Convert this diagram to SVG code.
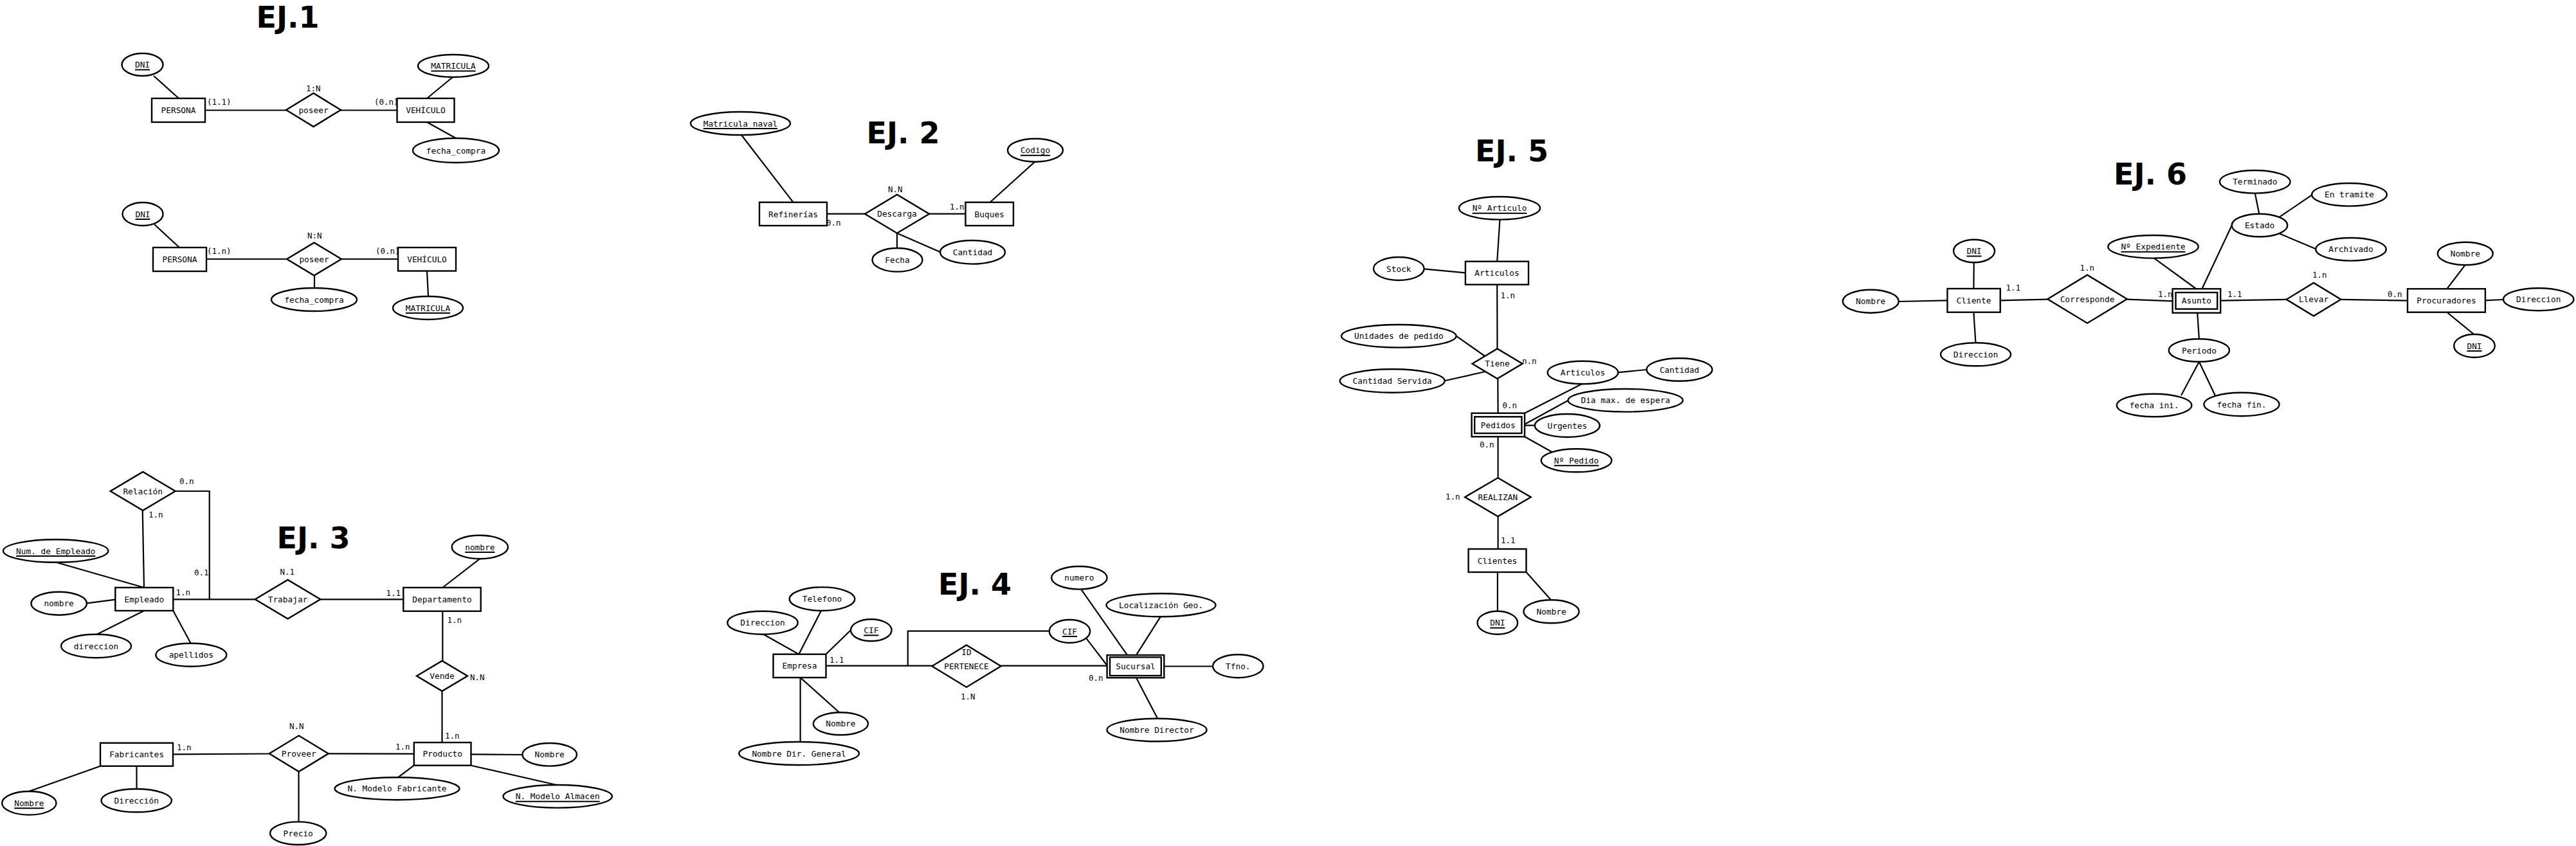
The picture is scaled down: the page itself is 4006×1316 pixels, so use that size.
<svg xmlns="http://www.w3.org/2000/svg" width="4006" height="1316" viewBox="0 0 4006 1316">
<style>
.bg{fill:#fff}
.e,.a,.r{fill:#fff;stroke:#000;stroke-width:2.4}
.t{font-family:"DejaVu Sans Mono","Liberation Mono",monospace;font-size:12.8px;text-anchor:middle;fill:#000}
.c{font-family:"DejaVu Sans Mono","Liberation Mono",monospace;font-size:12.5px;fill:#000}
.h{font-family:"DejaVu Sans","Liberation Sans",sans-serif;font-size:46px;font-weight:bold;fill:#000}
.u{stroke:#000;stroke-width:2}
#connectors line,#connectors polyline{stroke:#000;stroke-width:2.2;fill:none}
</style>
<rect class="bg" x="0" y="0" width="4006" height="1316"/>

<g id="titles">
<text class="h" x="398.5" y="43">EJ.1</text>
<text class="h" x="1347.5" y="223">EJ. 2</text>
<text class="h" x="430.5" y="853">EJ. 3</text>
<text class="h" x="1459" y="925">EJ. 4</text>
<text class="h" x="2294" y="251">EJ. 5</text>
<text class="h" x="3287" y="287">EJ. 6</text>
</g>

<g id="connectors">
<line x1="239" y1="118" x2="278" y2="153"/>
<line x1="319" y1="171.5" x2="445" y2="171.5"/>
<line x1="530" y1="171.5" x2="617.5" y2="171.5"/>
<line x1="664" y1="153" x2="704" y2="120"/>
<line x1="664" y1="190" x2="709" y2="215"/>
<line x1="240" y1="349" x2="279" y2="385"/>
<line x1="321" y1="403" x2="446" y2="403"/>
<line x1="531" y1="403" x2="619" y2="403"/>
<line x1="489" y1="428.5" x2="489" y2="448"/>
<line x1="664" y1="421.5" x2="666" y2="461"/>
<line x1="1153" y1="210" x2="1233.5" y2="314.7"/>
<line x1="1286" y1="332.7" x2="1345" y2="332.7"/>
<line x1="1445" y1="332.7" x2="1501.5" y2="332.7"/>
<line x1="1539.5" y1="314.7" x2="1609" y2="252"/>
<line x1="1395" y1="362.7" x2="1395" y2="386"/>
<line x1="1395" y1="362.7" x2="1462" y2="392"/>
<polyline points="272.7,764 325.7,764 325.7,932.3"/>
<line x1="221.7" y1="794" x2="224" y2="914"/>
<line x1="88.3" y1="875" x2="224" y2="914"/>
<line x1="135" y1="938.3" x2="179.3" y2="932.7"/>
<line x1="150.7" y1="986.7" x2="224" y2="950"/>
<line x1="269.3" y1="950" x2="296.7" y2="1000.7"/>
<line x1="269.3" y1="932.3" x2="396.7" y2="932.3"/>
<line x1="498.3" y1="932.3" x2="627.3" y2="932.3"/>
<line x1="688.3" y1="914" x2="746" y2="869.3"/>
<line x1="688.3" y1="950.7" x2="688.3" y2="1028"/>
<line x1="687.5" y1="1075" x2="687.5" y2="1155"/>
<line x1="269" y1="1173.3" x2="418.7" y2="1172.5"/>
<line x1="510.7" y1="1172.3" x2="643.8" y2="1172.7"/>
<line x1="464.5" y1="1200" x2="464.5" y2="1278.4"/>
<line x1="732.5" y1="1173.3" x2="812.5" y2="1174"/>
<line x1="643.8" y1="1190.7" x2="618.8" y2="1209.3"/>
<line x1="732.5" y1="1190.7" x2="865.6" y2="1221"/>
<line x1="156" y1="1191.7" x2="45" y2="1231"/>
<line x1="212.5" y1="1191.7" x2="212.5" y2="1227.3"/>
<line x1="1242.3" y1="1017.7" x2="1187.3" y2="986.7"/>
<line x1="1242.3" y1="1017.7" x2="1277" y2="950"/>
<line x1="1284.4" y1="1017.7" x2="1323.2" y2="980"/>
<line x1="1284.4" y1="1035.7" x2="1449.4" y2="1035.7"/>
<polyline points="1411.8,1035.7 1411.8,981.7 1631.8,981.7"/>
<line x1="1556.6" y1="1035.7" x2="1721.6" y2="1035.7"/>
<line x1="1689.6" y1="993.3" x2="1721.6" y2="1035"/>
<line x1="1681.2" y1="916.7" x2="1753" y2="1019"/>
<line x1="1804.7" y1="959.3" x2="1767" y2="1019"/>
<line x1="1810.3" y1="1036.5" x2="1886" y2="1036.5"/>
<line x1="1767" y1="1054.3" x2="1800.2" y2="1117.7"/>
<line x1="1244.6" y1="1054" x2="1305.2" y2="1108.3"/>
<line x1="1244.6" y1="1054" x2="1244.6" y2="1154"/>
<line x1="2332.5" y1="341.7" x2="2328.2" y2="406.7"/>
<line x1="2214.6" y1="418.3" x2="2278.9" y2="424.3"/>
<line x1="2328.2" y1="442.7" x2="2328.5" y2="542.5"/>
<line x1="2264.6" y1="522.7" x2="2309.2" y2="554"/>
<line x1="2246.7" y1="592.3" x2="2309.2" y2="578.3"/>
<line x1="2329.3" y1="589" x2="2329.6" y2="642.7"/>
<line x1="2516" y1="579.3" x2="2560.7" y2="575"/>
<line x1="2460" y1="597.3" x2="2370" y2="643.3"/>
<line x1="2371" y1="660" x2="2439" y2="622.7"/>
<line x1="2371" y1="661.7" x2="2386.8" y2="661.7"/>
<line x1="2371" y1="679.3" x2="2412.9" y2="702.7"/>
<line x1="2329.6" y1="679.3" x2="2329.6" y2="743.3"/>
<line x1="2329.6" y1="803.3" x2="2329.6" y2="854"/>
<line x1="2328.9" y1="890" x2="2328.9" y2="950.7"/>
<line x1="2373.5" y1="890" x2="2412" y2="933.3"/>
<line x1="3069.7" y1="408.3" x2="3069.3" y2="449"/>
<line x1="2952.7" y1="469" x2="3028.4" y2="467.3"/>
<line x1="3069.3" y1="485.7" x2="3072.4" y2="533.3"/>
<line x1="3110.7" y1="467.3" x2="3184.2" y2="465.7"/>
<line x1="3307.8" y1="465.7" x2="3378.6" y2="468.3"/>
<line x1="3349.9" y1="401.6" x2="3414.9" y2="449"/>
<line x1="3424.5" y1="449" x2="3470.7" y2="350.7"/>
<line x1="3417.2" y1="486.7" x2="3419.9" y2="527.3"/>
<line x1="3419.9" y1="562.7" x2="3392" y2="615"/>
<line x1="3419.9" y1="562.7" x2="3444.8" y2="615"/>
<line x1="3452.6" y1="467.7" x2="3555.5" y2="465.8"/>
<line x1="3640.4" y1="465.8" x2="3744" y2="467.7"/>
<line x1="3833.5" y1="412.3" x2="3805.3" y2="449.3"/>
<line x1="3864.9" y1="467.3" x2="3893" y2="466"/>
<line x1="3805.3" y1="485.7" x2="3847.2" y2="520"/>
<line x1="3506.8" y1="300.6" x2="3513.3" y2="332.7"/>
<line x1="3544.7" y1="337.7" x2="3595.2" y2="303.3"/>
<line x1="3544.7" y1="363.3" x2="3601.4" y2="387.3"/>
</g>

<g id="ej1a-dni"><ellipse class="a" cx="221.5" cy="100.5" rx="32" ry="17.5"/><text class="t" x="221.5" y="105.1">DNI</text><line class="u" x1="210" y1="108.5" x2="233" y2="108.5"/></g>
<g id="ej1a-persona"><rect class="e" x="236" y="153" width="83" height="37"/><text class="t" x="277.5" y="176.1">PERSONA</text></g>
<g id="ej1a-poseer"><polygon class="r" points="445,171 487.5,145 530,171 487.5,197"/><text class="t" x="487.5" y="175.6">poseer</text></g>
<g id="ej1a-vehiculo"><rect class="e" x="617.5" y="153" width="89" height="37"/><text class="t" x="662" y="176.1">VEHÍCULO</text></g>
<g id="ej1a-matricula"><ellipse class="a" cx="705" cy="102.5" rx="55" ry="17.5"/><text class="t" x="705" y="107.1">MATRICULA</text><line class="u" x1="670.4" y1="110.5" x2="739.6" y2="110.5"/></g>
<g id="ej1a-fecha"><ellipse class="a" cx="709" cy="234" rx="67" ry="19"/><text class="t" x="709" y="238.6">fecha_compra</text></g>

<g id="ej1b-dni"><ellipse class="a" cx="222" cy="333" rx="31.5" ry="18"/><text class="t" x="222" y="337.6">DNI</text><line class="u" x1="210.5" y1="341" x2="233.5" y2="341"/></g>
<g id="ej1b-persona"><rect class="e" x="238" y="385" width="83" height="37"/><text class="t" x="279.5" y="408.1">PERSONA</text></g>
<g id="ej1b-poseer"><polygon class="r" points="446,403 488.5,377.5 531,403 488.5,428.5"/><text class="t" x="488.5" y="407.6">poseer</text></g>
<g id="ej1b-vehiculo"><rect class="e" x="619" y="385" width="90" height="36.5"/><text class="t" x="664" y="407.8">VEHÍCULO</text></g>
<g id="ej1b-fecha"><ellipse class="a" cx="488.5" cy="466" rx="66.5" ry="18"/><text class="t" x="488.5" y="470.6">fecha_compra</text></g>
<g id="ej1b-matricula"><ellipse class="a" cx="665.5" cy="479" rx="54.5" ry="18"/><text class="t" x="665.5" y="483.6">MATRICULA</text><line class="u" x1="630.9" y1="487" x2="700.1" y2="487"/></g>

<g id="ej2-matricula"><ellipse class="a" cx="1151.5" cy="192" rx="77.5" ry="18"/><text class="t" x="1151.5" y="196.6">Matricula_naval</text><line class="u" x1="1093.8" y1="200" x2="1209.2" y2="200"/></g>
<g id="ej2-refinerias"><rect class="e" x="1181" y="314.7" width="105" height="36.3"/><text class="t" x="1233.5" y="337.6">Refinerías</text></g>
<g id="ej2-descarga"><polygon class="r" points="1345,332.7 1395,302.7 1445,332.7 1395,362.7"/><text class="t" x="1395" y="337.3">Descarga</text></g>
<g id="ej2-buques"><rect class="e" x="1501.5" y="314.7" width="74.5" height="36.3"/><text class="t" x="1538.7" y="337.6">Buques</text></g>
<g id="ej2-codigo"><ellipse class="a" cx="1610" cy="233.7" rx="43" ry="18"/><text class="t" x="1610" y="238.3">Codigo</text><line class="u" x1="1586.9" y1="241.7" x2="1633.1" y2="241.7"/></g>
<g id="ej2-fecha"><ellipse class="a" cx="1395.5" cy="404.3" rx="39" ry="18.3"/><text class="t" x="1395.5" y="408.9">Fecha</text></g>
<g id="ej2-cantidad"><ellipse class="a" cx="1512.5" cy="392.3" rx="50.5" ry="18.3"/><text class="t" x="1512.5" y="396.9">Cantidad</text></g>

<g id="ej3-relacion"><polygon class="r" points="171.7,764 222.2,734 272.7,764 222.2,794"/><text class="t" x="222.2" y="768.6">Relación</text></g>
<g id="ej3-numempleado"><ellipse class="a" cx="86.7" cy="857" rx="81.7" ry="17.8"/><text class="t" x="86.7" y="861.6">Num. de Empleado</text><line class="u" x1="25.1" y1="865" x2="148.3" y2="865"/></g>
<g id="ej3-empleado"><rect class="e" x="179.3" y="914" width="90" height="36"/><text class="t" x="224.3" y="936.6">Empleado</text></g>
<g id="ej3-nombre"><ellipse class="a" cx="91.7" cy="938.7" rx="43.3" ry="18"/><text class="t" x="91.7" y="943.3">nombre</text></g>
<g id="ej3-direccion"><ellipse class="a" cx="149.5" cy="1005" rx="54.5" ry="18.3"/><text class="t" x="149.5" y="1009.6">direccion</text></g>
<g id="ej3-apellidos"><ellipse class="a" cx="297.3" cy="1018.7" rx="55" ry="18"/><text class="t" x="297.3" y="1023.3">apellidos</text></g>
<g id="ej3-trabajar"><polygon class="r" points="396.7,932.3 447.5,902 498.3,932.3 447.5,962.6"/><text class="t" x="447.5" y="936.9">Trabajar</text></g>
<g id="ej3-departamento"><rect class="e" x="627.3" y="914" width="120.4" height="36.7"/><text class="t" x="687.5" y="936.9">Departamento</text></g>
<g id="ej3-deptnombre"><ellipse class="a" cx="746.3" cy="851" rx="43.7" ry="18.3"/><text class="t" x="746.3" y="855.6">nombre</text><line class="u" x1="723.2" y1="859" x2="769.4" y2="859"/></g>
<g id="ej3-vende"><polygon class="r" points="648,1051.5 687.5,1028 727,1051.5 687.5,1075"/><text class="t" x="687.5" y="1056.1">Vende</text></g>
<g id="ej3-producto"><rect class="e" x="643.8" y="1155" width="88.7" height="35.7"/><text class="t" x="688.2" y="1177.4">Producto</text></g>
<g id="ej3-fabricantes"><rect class="e" x="156" y="1155.7" width="113" height="36"/><text class="t" x="212.5" y="1178.3">Fabricantes</text></g>
<g id="ej3-proveer"><polygon class="r" points="418.7,1172.3 464.7,1144.3 510.7,1172.3 464.7,1200.3"/><text class="t" x="464.7" y="1176.9">Proveer</text></g>
<g id="ej3-precio"><ellipse class="a" cx="463.7" cy="1296.2" rx="43.7" ry="17.8"/><text class="t" x="463.7" y="1300.8">Precio</text></g>
<g id="ej3-prodnombre"><ellipse class="a" cx="854.7" cy="1173.8" rx="42.3" ry="17.8"/><text class="t" x="854.7" y="1178.4">Nombre</text></g>
<g id="ej3-modelofab"><ellipse class="a" cx="617.5" cy="1226.8" rx="97" ry="17.5"/><text class="t" x="617.5" y="1231.4">N. Modelo Fabricante</text></g>
<g id="ej3-modeloalm"><ellipse class="a" cx="867.2" cy="1238.8" rx="84.7" ry="17.8"/><text class="t" x="867.2" y="1243.4">N. Modelo Almacen</text><line class="u" x1="801.7" y1="1246.8" x2="932.7" y2="1246.8"/></g>
<g id="ej3-fabnombre"><ellipse class="a" cx="45.3" cy="1249.3" rx="42.2" ry="18.3"/><text class="t" x="45.3" y="1253.9">Nombre</text><line class="u" x1="22.2" y1="1257.3" x2="68.4" y2="1257.3"/></g>
<g id="ej3-fabdireccion"><ellipse class="a" cx="212.2" cy="1245.3" rx="54.7" ry="18"/><text class="t" x="212.2" y="1249.9">Dirección</text></g>

<g id="ej4-empresa"><rect class="e" x="1202.5" y="1017.7" width="82" height="36.3"/><text class="t" x="1243.5" y="1040.4">Empresa</text></g>
<g id="ej4-telefono"><ellipse class="a" cx="1278.5" cy="931.7" rx="50.8" ry="18.3"/><text class="t" x="1278.5" y="936.3">Telefono</text></g>
<g id="ej4-direccion"><ellipse class="a" cx="1186" cy="968.7" rx="54.7" ry="18"/><text class="t" x="1186" y="973.3">Direccion</text></g>
<g id="ej4-cif"><ellipse class="a" cx="1354.8" cy="980.3" rx="31.8" ry="17"/><text class="t" x="1354.8" y="984.9">CIF</text><line class="u" x1="1343.2" y1="988.3" x2="1366.4" y2="988.3"/></g>
<g id="ej4-pertenece"><polygon class="r" points="1449.4,1036.2 1503,1003.5 1556.6,1036.2 1503,1068.9"/><text class="t" x="1503" y="1019">ID</text><text class="t" x="1503" y="1040.7">PERTENECE</text></g>
<g id="ej4-sucursal"><rect class="e" x="1721.6" y="1019" width="88.7" height="35.3"/><rect class="e" x="1726" y="1022.3" width="79.8" height="28.7"/><text class="t" x="1766" y="1041.3">Sucursal</text></g>
<g id="ej4-cif2"><ellipse class="a" cx="1663.5" cy="982" rx="31.7" ry="18"/><text class="t" x="1663.5" y="986.6">CIF</text><line class="u" x1="1651.9" y1="990" x2="1675.1" y2="990"/></g>
<g id="ej4-numero"><ellipse class="a" cx="1678.4" cy="898.8" rx="43.2" ry="17.8"/><text class="t" x="1678.4" y="903.4">numero</text></g>
<g id="ej4-localizacion"><ellipse class="a" cx="1805.5" cy="941.3" rx="85" ry="18"/><text class="t" x="1805.5" y="945.9">Localización Geo.</text></g>
<g id="ej4-tfno"><ellipse class="a" cx="1925.3" cy="1036.3" rx="39.3" ry="18"/><text class="t" x="1925.3" y="1040.9">Tfno.</text></g>
<g id="ej4-director"><ellipse class="a" cx="1799" cy="1135.5" rx="77.5" ry="17.8"/><text class="t" x="1799" y="1140.1">Nombre Director</text></g>
<g id="ej4-nombre"><ellipse class="a" cx="1307.4" cy="1125.8" rx="42.6" ry="17.5"/><text class="t" x="1307.4" y="1130.4">Nombre</text></g>
<g id="ej4-dirgeneral"><ellipse class="a" cx="1242.6" cy="1172" rx="93.4" ry="18"/><text class="t" x="1242.6" y="1176.6">Nombre Dir. General</text></g>

<g id="ej5-narticulo"><ellipse class="a" cx="2332" cy="323.8" rx="63" ry="17.8"/><text class="t" x="2332" y="328.4">Nº Articulo</text><line class="u" x1="2289.6" y1="331.8" x2="2374.4" y2="331.8"/></g>
<g id="ej5-articulos"><rect class="e" x="2278.9" y="406.7" width="98.1" height="36"/><text class="t" x="2328" y="429.3">Articulos</text></g>
<g id="ej5-stock"><ellipse class="a" cx="2175.3" cy="418" rx="39.3" ry="18"/><text class="t" x="2175.3" y="422.6">Stock</text></g>
<g id="ej5-tiene"><polygon class="r" points="2289.5,565.8 2328.5,542.5 2367.5,565.8 2328.5,589.1"/><text class="t" x="2328.5" y="570.4">Tiene</text></g>
<g id="ej5-unidades"><ellipse class="a" cx="2175.3" cy="522.8" rx="89.3" ry="17.8"/><text class="t" x="2175.3" y="527.4">Unidades de pedido</text></g>
<g id="ej5-servida"><ellipse class="a" cx="2165.2" cy="592.5" rx="81.5" ry="18.2"/><text class="t" x="2165.2" y="597.1">Cantidad Servida</text></g>
<g id="ej5-articulos2"><ellipse class="a" cx="2461.5" cy="579.5" rx="54.8" ry="17.8"/><text class="t" x="2461.5" y="584.1">Articulos</text></g>
<g id="ej5-cantidad"><ellipse class="a" cx="2611.7" cy="575" rx="51" ry="17.7"/><text class="t" x="2611.7" y="579.6">Cantidad</text></g>
<g id="ej5-diamax"><ellipse class="a" cx="2527.8" cy="622.8" rx="89.3" ry="17.8"/><text class="t" x="2527.8" y="627.4">Dia max. de espera</text></g>
<g id="ej5-pedidos"><rect class="e" x="2288.6" y="642.7" width="82.4" height="36.6"/><rect class="e" x="2293.2" y="648.3" width="73.2" height="25.7"/><text class="t" x="2329.8" y="665.6">Pedidos</text></g>
<g id="ej5-urgentes"><ellipse class="a" cx="2437.3" cy="662" rx="50.5" ry="18"/><text class="t" x="2437.3" y="666.6">Urgentes</text></g>
<g id="ej5-npedido"><ellipse class="a" cx="2451.5" cy="716.3" rx="54.8" ry="18"/><text class="t" x="2451.5" y="720.9">Nº Pedido</text><line class="u" x1="2416.8" y1="724.3" x2="2486.2" y2="724.3"/></g>
<g id="ej5-realizan"><polygon class="r" points="2278.1,773.3 2329.4,743.3 2380.7,773.3 2329.4,803.3"/><text class="t" x="2329.4" y="777.9">REALIZAN</text></g>
<g id="ej5-clientes"><rect class="e" x="2283.6" y="854" width="89.9" height="36"/><text class="t" x="2328.5" y="876.6">Clientes</text></g>
<g id="ej5-dni"><ellipse class="a" cx="2328.8" cy="968.7" rx="31.3" ry="18"/><text class="t" x="2328.8" y="973.3">DNI</text><line class="u" x1="2317.2" y1="976.7" x2="2340.4" y2="976.7"/></g>
<g id="ej5-nombre"><ellipse class="a" cx="2412.5" cy="951.3" rx="43.2" ry="18"/><text class="t" x="2412.5" y="955.9">Nombre</text></g>

<g id="ej6-dni"><ellipse class="a" cx="3070" cy="390.5" rx="32" ry="17.8"/><text class="t" x="3070" y="395.1">DNI</text><line class="u" x1="3058.4" y1="398.5" x2="3081.6" y2="398.5"/></g>
<g id="ej6-cliente"><rect class="e" x="3028.4" y="449" width="82.3" height="36.7"/><text class="t" x="3069.5" y="471.9">Cliente</text></g>
<g id="ej6-nombre"><ellipse class="a" cx="2909.2" cy="468.7" rx="43.5" ry="18"/><text class="t" x="2909.2" y="473.3">Nombre</text></g>
<g id="ej6-direccion"><ellipse class="a" cx="3072.5" cy="551.3" rx="54.5" ry="18"/><text class="t" x="3072.5" y="555.9">Direccion</text></g>
<g id="ej6-corresponde"><polygon class="r" points="3184.2,465.2 3246,427.7 3307.8,465.2 3246,502.7"/><text class="t" x="3246" y="469.8">Corresponde</text></g>
<g id="ej6-asunto"><rect class="e" x="3378.6" y="449.3" width="74.6" height="37.4"/><rect class="e" x="3383.5" y="455" width="64.7" height="25.7"/><text class="t" x="3415.9" y="472.4">Asunto</text></g>
<g id="ej6-expediente"><ellipse class="a" cx="3348.5" cy="383.8" rx="70.2" ry="17.8"/><text class="t" x="3348.5" y="388.4">Nº Expediente</text><line class="u" x1="3298.5" y1="391.8" x2="3398.5" y2="391.8"/></g>
<g id="ej6-periodo"><ellipse class="a" cx="3419.9" cy="545" rx="47.1" ry="17.7"/><text class="t" x="3419.9" y="549.6">Periodo</text></g>
<g id="ej6-fechaini"><ellipse class="a" cx="3350" cy="630.5" rx="58.3" ry="17.8"/><text class="t" x="3350" y="635.1">fecha ini.</text></g>
<g id="ej6-fechafin"><ellipse class="a" cx="3486" cy="629" rx="58.6" ry="18.3"/><text class="t" x="3486" y="633.6">fecha fin.</text></g>
<g id="ej6-llevar"><polygon class="r" points="3555.6,465.8 3598,440 3640.4,465.8 3598,491.6"/><text class="t" x="3598" y="470.4">Llevar</text></g>
<g id="ej6-procuradores"><rect class="e" x="3744" y="449.3" width="120.9" height="36.4"/><text class="t" x="3804.5" y="472.1">Procuradores</text></g>
<g id="ej6-pnombre"><ellipse class="a" cx="3833.8" cy="394.5" rx="43" ry="17.8"/><text class="t" x="3833.8" y="399.1">Nombre</text></g>
<g id="ej6-pdireccion"><ellipse class="a" cx="3947.7" cy="465.8" rx="54.7" ry="17.5"/><text class="t" x="3947.7" y="470.4">Direccion</text></g>
<g id="ej6-pdni"><ellipse class="a" cx="3848" cy="538" rx="31.8" ry="18"/><text class="t" x="3848" y="542.6">DNI</text><line class="u" x1="3836.4" y1="546" x2="3859.6" y2="546"/></g>
<g id="ej6-estado"><ellipse class="a" cx="3514" cy="350.5" rx="43.3" ry="17.8"/><text class="t" x="3514" y="355.1">Estado</text></g>
<g id="ej6-terminado"><ellipse class="a" cx="3506.8" cy="282.8" rx="54.8" ry="17.8"/><text class="t" x="3506.8" y="287.4">Terminado</text></g>
<g id="ej6-entramite"><ellipse class="a" cx="3653.5" cy="302.8" rx="58.3" ry="17.8"/><text class="t" x="3653.5" y="307.4">En tramite</text></g>
<g id="ej6-archivado"><ellipse class="a" cx="3656" cy="387.8" rx="54.7" ry="17.8"/><text class="t" x="3656" y="392.4">Archivado</text></g>

<g id="cardinalities">
<text class="c" x="322" y="163">(1.1)</text>
<text class="c" x="476" y="142">1:N</text>
<text class="c" x="582" y="163">(0.n)</text>
<text class="c" x="322" y="395">(1.n)</text>
<text class="c" x="478" y="371">N:N</text>
<text class="c" x="584" y="395">(0.n)</text>
<text class="c" x="1381" y="298.5">N.N</text>
<text class="c" x="1285" y="350.5">0.n</text>
<text class="c" x="1477" y="326">1.n</text>
<text class="c" x="279" y="753">0.n</text>
<text class="c" x="231" y="805">1.n</text>
<text class="c" x="302" y="894.5">0.1</text>
<text class="c" x="273.5" y="925.5">1.n</text>
<text class="c" x="435.5" y="893.7">N.1</text>
<text class="c" x="600.5" y="926.5">1.1</text>
<text class="c" x="695.5" y="968.7">1.n</text>
<text class="c" x="731" y="1057.5">N.N</text>
<text class="c" x="692" y="1149">1.n</text>
<text class="c" x="275" y="1167">1.n</text>
<text class="c" x="450" y="1133.5">N.N</text>
<text class="c" x="615" y="1166">1.n</text>
<text class="c" x="1290" y="1031">1.1</text>
<text class="c" x="1494" y="1087.5">1.N</text>
<text class="c" x="1693" y="1058.5">0.n</text>
<text class="c" x="2333.5" y="463.5">1.n</text>
<text class="c" x="2367" y="565.5">n.n</text>
<text class="c" x="2336.5" y="634.5">0.n</text>
<text class="c" x="2301" y="695.5">0.n</text>
<text class="c" x="2248" y="776.8">1.n</text>
<text class="c" x="2334" y="844.5">1.1</text>
<text class="c" x="3119.5" y="452">1.1</text>
<text class="c" x="3234.5" y="421">1.n</text>
<text class="c" x="3356" y="462">1.n</text>
<text class="c" x="3464" y="462">1.1</text>
<text class="c" x="3596" y="431.5">1.n</text>
<text class="c" x="3713" y="462">0.n</text>
</g>
</svg>
